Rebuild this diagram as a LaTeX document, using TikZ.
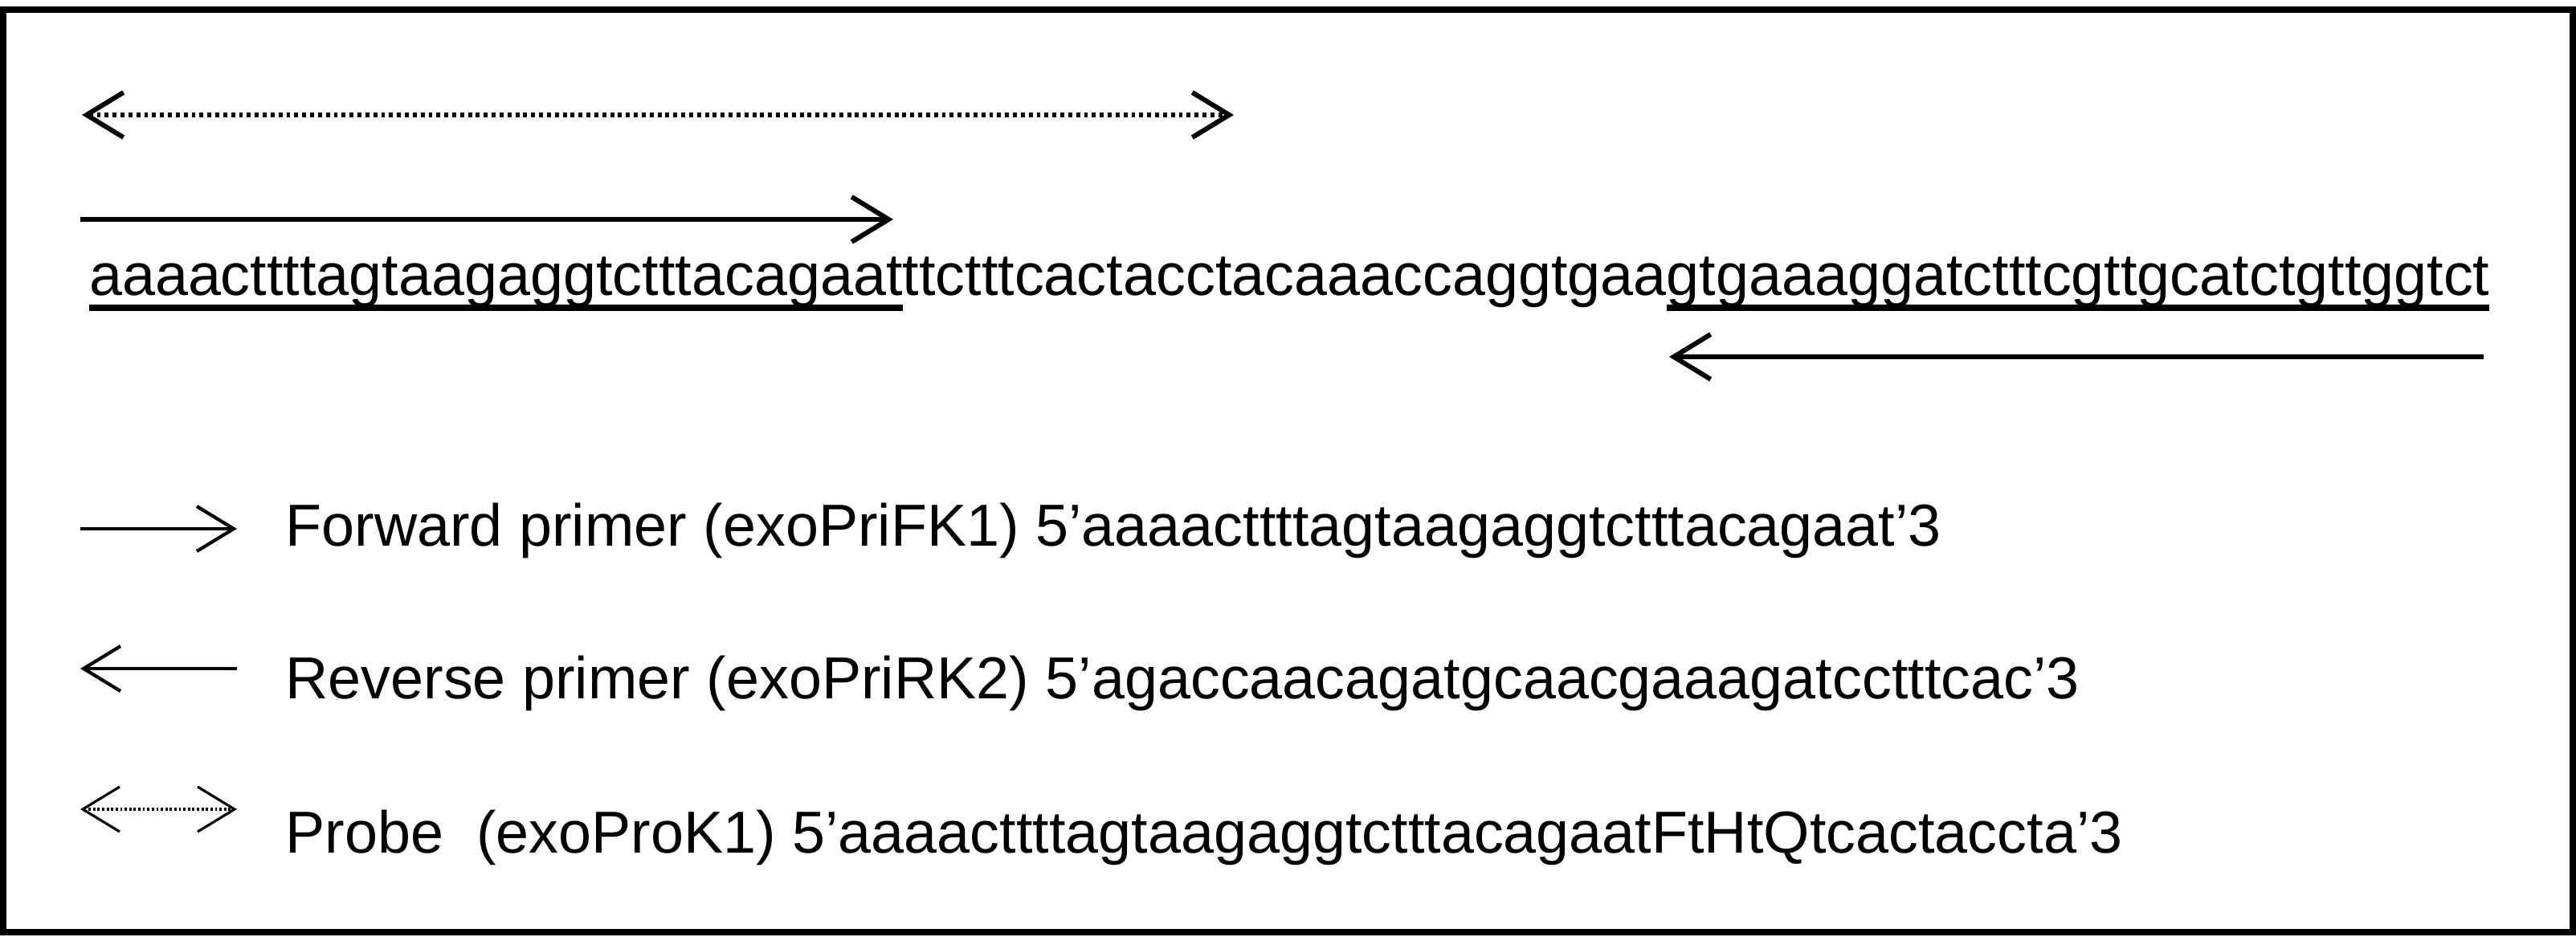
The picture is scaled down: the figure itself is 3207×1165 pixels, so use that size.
\documentclass[tikz,border=0pt]{standalone}
\usepackage{fontspec}
\setmainfont{Liberation Sans}
\usetikzlibrary{arrows.meta,positioning}

\tikzset{
    barb/.tip={Straight Barb[length=0.23cm,width=0.28cm]},
    seq/.style={inner sep=0pt, outer sep=0pt, font=\fontsize{10.5}{12}\selectfont},
    legtext/.style={inner sep=0pt, anchor=base west, font=\fontsize{10.5}{12}\selectfont},
    primer/.style={line width=0.85pt, -barb},
    probe/.style={line width=0.85pt, dash pattern=on 0.7pt off 0.7pt, barb-barb},
    legprimer/.style={line width=0.6pt, -barb},
    legprobe/.style={line width=0.45pt, dash pattern=on 0.4pt off 0.4pt, barb-barb},
    uline/.style={line width=1pt}
}

\begin{document}
\begin{tikzpicture}[x=0.005cm, y=-0.005cm]
    \useasboundingbox (0,0) rectangle (3207,1165);
    \draw[line width=0.04cm] (4,12) rectangle (3203,1160);

    % sequence
    \node[seq, anchor=base west] (fwd) at (111,367) {aaaacttttagtaagaggtctttacagaat};
    \node[seq, base right=0pt of fwd] (mid) {ttctttcactacctacaaaccaggtgaa};
    \node[seq, base right=0pt of mid] (rev) {gtgaaaggatctttcgttgcatctgttggtct};

    \draw[uline] ([yshift=-0.08cm]fwd.base west) -- ([yshift=-0.08cm]fwd.base east);
    \draw[uline] ([yshift=-0.08cm]rev.base west) -- ([yshift=-0.08cm]rev.base east);

    % primers and probe
    \coordinate (pb1) at (102,143);
    \coordinate (pb2) at (1536,143);
    \coordinate (fp1) at (100,273);
    \coordinate (fp2) at (1112,273);
    \coordinate (rp1) at (3092,444);
    \coordinate (rp2) at (2078,444);

    \draw[probe] (pb1) -- (pb2);
    \draw[primer] (fp1) -- (fp2);
    \draw[primer] (rp1) -- (rp2);

    % legend
    \coordinate (lf1) at (100,658);
    \coordinate (lf2) at (295,658);
    \coordinate (lr1) at (295,832);
    \coordinate (lr2) at (100,832);
    \coordinate (lp1) at (100,1007);
    \coordinate (lp2) at (295,1007);

    \draw[legprimer] (lf1) -- (lf2);
    \draw[legprimer] (lr1) -- (lr2);
    \draw[legprobe] (lp1) -- (lp2);

    \node[legtext] (fwdtext) at (354,679) {Forward primer (exoPriFK1) 5'aaaacttttagtaagaggtctttacagaat'3};
    \node[legtext] (revtext) at (354,869) {Reverse primer (exoPriRK2) 5'agaccaacagatgcaacgaaagatcctttcac'3};
    \node[legtext] (prbtext) at (354,1061) {Probe\ \ (exoProK1) 5'aaaacttttagtaagaggtctttacagaatFtHtQtcactaccta'3};
\end{tikzpicture}
\end{document}
